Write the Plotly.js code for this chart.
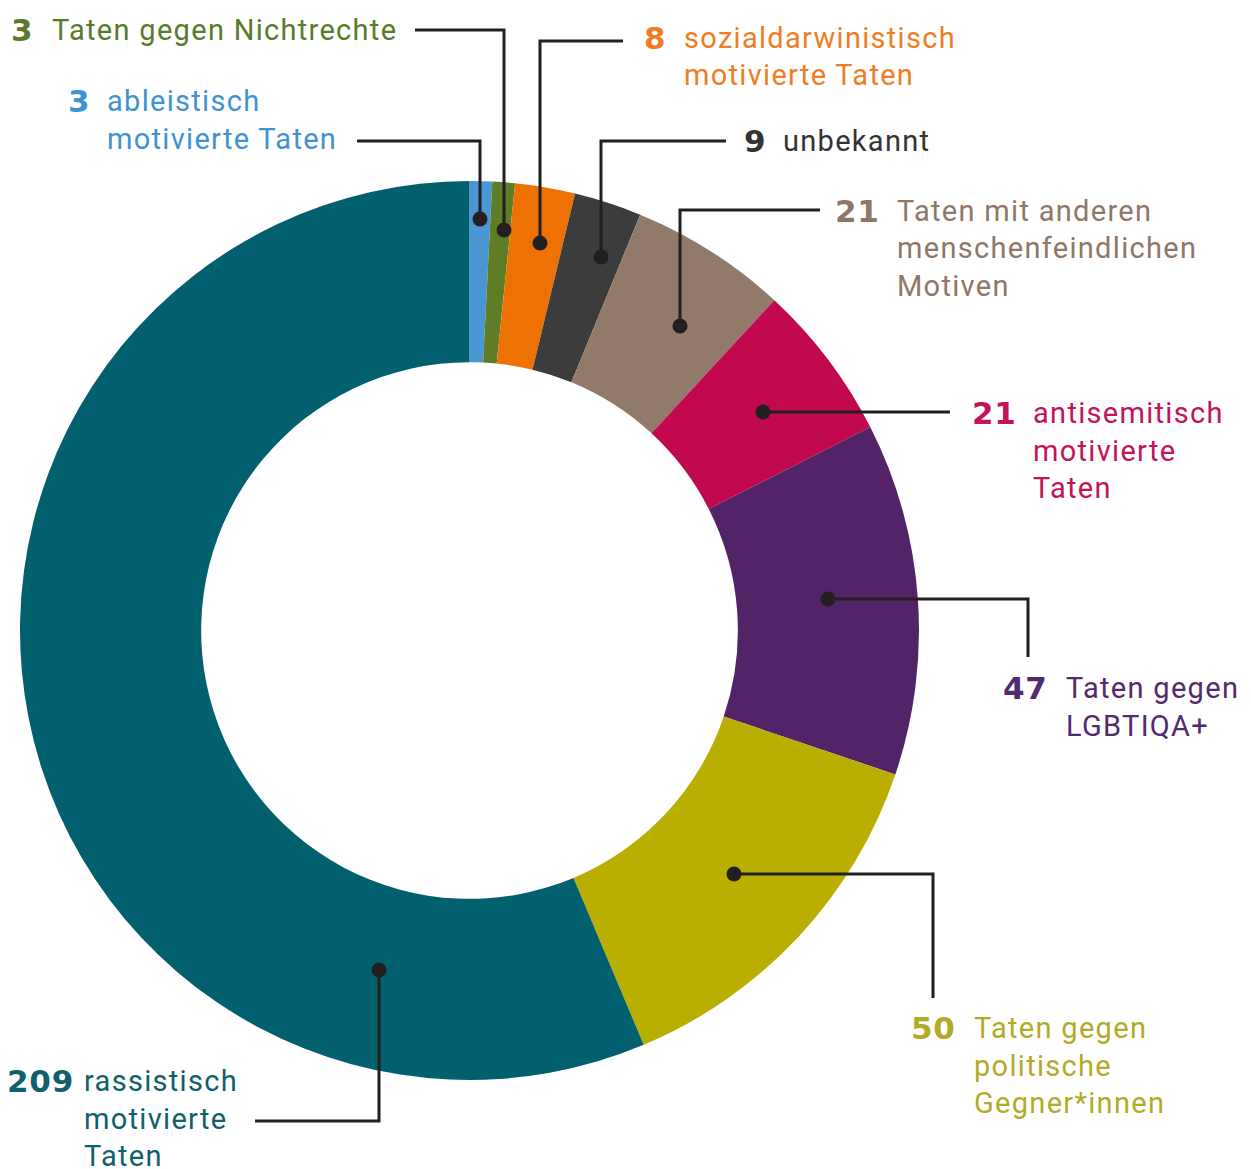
<!DOCTYPE html>
<html>
<head>
<meta charset="utf-8">
<script src="https://cdn.plot.ly/plotly-3.0.1.min.js"></script>
<style>html,body{margin:0;padding:0;background:#fff;}#chart{width:1251px;height:1169px;}</style>
</head>
<body>
<div id="chart"></div>
<script>
// ---- data ----
const categories = [
  'ableistisch motivierte Taten',
  'Taten gegen Nichtrechte',
  'sozialdarwinistisch motivierte Taten',
  'unbekannt',
  'Taten mit anderen menschenfeindlichen Motiven',
  'antisemitisch motivierte Taten',
  'Taten gegen LGBTIQA+',
  'Taten gegen politische Gegner*innen',
  'rassistisch motivierte Taten'
];
const values = [3, 3, 8, 9, 21, 21, 47, 50, 209];
const labelLines = [
  ['ableistisch', 'motivierte Taten'],
  ['Taten gegen Nichtrechte'],
  ['sozialdarwinistisch', 'motivierte Taten'],
  ['unbekannt'],
  ['Taten mit anderen', 'menschenfeindlichen', 'Motiven'],
  ['antisemitisch', 'motivierte', 'Taten'],
  ['Taten gegen', 'LGBTIQA+'],
  ['Taten gegen', 'politische', 'Gegner*innen'],
  ['rassistisch', 'motivierte', 'Taten']
];
const sliceColors = ['#4A96D2', '#5F7D27', '#EE7203', '#3C3C3C', '#917A69', '#C2084E', '#522367', '#BAAF00', '#02606E'];
const textColors  = ['#3E93D0', '#5A7A2A', '#F07D26', '#333333', '#8E7767', '#C3135A', '#532A6B', '#B3AA28', '#0F5F6D'];

// ---- callout layout (pixels) ----
const W = 1251, H = 1169;
const callouts = [
  {pts: [[480,219],[480,141],[357,141]],            numR: 90,   textX: 107,  y0: 101},
  {pts: [[504,230],[504,30],[415,30]],              numR: 33,   textX: 52,   y0: 30},
  {pts: [[540,243],[540,41],[623,41]],              numR: 666,  textX: 684,  y0: 38},
  {pts: [[601,257],[601,141],[726,141]],            numR: 766,  textX: 783,  y0: 141},
  {pts: [[680,326],[680,210],[820,210]],            numR: 880,  textX: 897,  y0: 211},
  {pts: [[763,412],[950,412]],                      numR: 1017, textX: 1033, y0: 413},
  {pts: [[828,599],[1028,599],[1028,657]],          numR: 1048, textX: 1066, y0: 688},
  {pts: [[734,874],[933,874],[933,998]],            numR: 956,  textX: 974,  y0: 1028},
  {pts: [[379,970],[379,1121],[255,1121]],          numR: 74,   textX: 84,   y0: 1081}
];
const LINE_H = 37.5;
const px = x => x / W;
const py = y => 1 - y / H;

const shapes = [];
const annotations = [];
callouts.forEach((c, i) => {
  const d = c.pts.map((p, k) => (k === 0 ? 'M' : 'L') + px(p[0]) + ',' + py(p[1])).join(' ');
  shapes.push({type: 'path', xref: 'paper', yref: 'paper', path: d,
    line: {color: '#231F20', width: 3}});
  shapes.push({type: 'circle', xref: 'paper', yref: 'paper', xsizemode: 'pixel', ysizemode: 'pixel',
    xanchor: px(c.pts[0][0]), yanchor: py(c.pts[0][1]), x0: -7.5, x1: 7.5, y0: -7.5, y1: 7.5,
    fillcolor: '#231F20', line: {width: 0}});
  annotations.push({xref: 'paper', yref: 'paper', x: px(c.numR), y: py(c.y0),
    xanchor: 'right', yanchor: 'middle', showarrow: false, borderpad: 0, borderwidth: 0,
    text: '<b><span style="letter-spacing:0.8px">' + values[i] + '</span></b>',
    font: {family: 'DejaVu Sans', size: 31, color: textColors[i]}});
  labelLines[i].forEach((t, k) => {
    annotations.push({xref: 'paper', yref: 'paper', x: px(c.textX), y: py(c.y0 + k * LINE_H),
      xanchor: 'left', yanchor: 'middle', showarrow: false, borderpad: 0, borderwidth: 0,
      text: '<span style="letter-spacing:1.3px">' + t + '</span>',
      font: {family: 'Roboto', size: 29, color: textColors[i]}});
  });
});

const trace = {
  type: 'pie',
  labels: categories,
  values: values,
  sort: false,
  direction: 'clockwise',
  rotation: 0,
  hole: 0.597,
  textinfo: 'none',
  hoverinfo: 'label+value',
  showlegend: false,
  marker: {colors: sliceColors, line: {width: 0}},
  domain: {x: [px(20), px(919)], y: [py(1080), py(181)]}
};

const layout = {
  width: W, height: H,
  margin: {l: 0, r: 0, t: 0, b: 0},
  paper_bgcolor: '#ffffff',
  showlegend: false,
  shapes: shapes,
  annotations: annotations
};

Plotly.newPlot('chart', [trace], layout, {displayModeBar: false, staticPlot: true});
</script>
</body>
</html>
